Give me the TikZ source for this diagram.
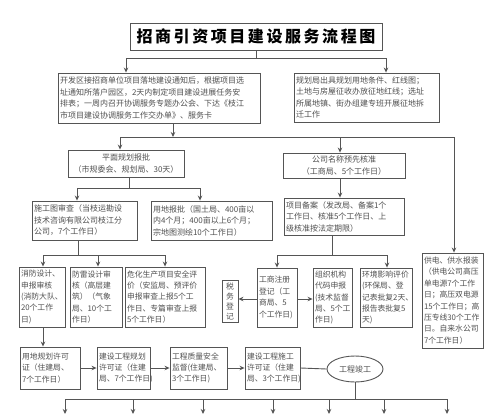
\documentclass[tikz,border=0pt]{standalone}
\usepackage{fontspec}
\usetikzlibrary{arrows.meta,shapes.geometric}
\newfontfamily\cjk{Noto Sans CJK SC}
\newfontfamily\cjktitle[LetterSpace=16]{Noto Sans CJK SC}
\definecolor{linec}{RGB}{85,85,85}
\definecolor{txtc}{RGB}{80,80,80}
\begin{document}
\begin{tikzpicture}[x=1pt,y=-1pt,
  bx/.style={draw=linec, line width=0.9pt, text=txtc, inner sep=2pt,
    font=\cjk\fontsize{8}{11.5}\selectfont, align=left},
  sbx/.style={bx, font=\cjk\fontsize{7.8}{11.4}\selectfont},
  ln/.style={draw=linec, line width=0.9pt},
  ar/.style={ln, -{Stealth[length=5pt,width=4.5pt]}}]
\useasboundingbox (0,0) rectangle (500,415);
\fill[white] (0,0) rectangle (500,415);

% title
\node[draw=linec, line width=1pt, text width=248pt, minimum height=27pt, align=center, inner sep=2pt,
  font=\cjktitle\bfseries\fontsize{16}{18}\selectfont, text=black] (title) at (256,36.5) {招商引资项目建设服务流程图};

% first row
\node[bx, text width=198pt, minimum height=50pt] (b1) at (159,98)
  {开发区接招商单位项目落地建设通知后，根据项目选\\址通知所落户园区，2天内制定项目建设进展任务安\\排表；一周内召开协调服务专题办公会、下达《枝江\\市项目建设协调服务工作交办单》、服务卡};
\node[bx, text width=141pt, minimum height=49pt] (b2) at (366.5,97.5)
  {规划局出具规划用地条件、红线图；\\土地与房屋征收办放征地红线；选址\\所属地镇、街办组建专班开展征地拆\\迁工作};

% second row
\node[bx, text width=112pt, minimum height=27pt, align=center] (b3) at (126,163.5)
  {平面规划报批\\（市规委会、规划局、30天）};
\node[bx, text width=118pt, minimum height=25pt, align=center] (b4) at (344,165.5)
  {公司名称预先核准\\（工商局、5个工作日）};

% third row
\node[bx, text width=101pt, minimum height=39pt] (b5) at (84.5,220.5)
  {施工图审查（当枝运勘设\\技术咨询有限公司枝江分\\公司，7个工作日）};
\node[bx, text width=117pt, minimum height=39pt] (b6) at (211.5,220.5)
  {用地报批（国土局、400亩以\\内4个月；400亩以上6个月；\\宗地图测绘10个工作日）};
\node[bx, text width=116pt, minimum height=37pt] (b7) at (344,216.5)
  {项目备案（发改局、备案1个\\工作日、核准5个工作日、上\\级核准按法定期限）};
\node[sbx, text width=57pt, minimum height=95pt] (b8) at (452.5,300.5)
  {供电、供水报装\\（供电公司高压\\单电源7个工作\\日；高压双电源\\15个工作日；高\\压专线30个工作\\日。自来水公司\\7个工作日）};

% fourth row
\node[sbx, text width=42pt, minimum height=60pt] (c1) at (42,297)
  {消防设计、\\申报审核\\(消防大队、\\20个工作\\日)};
\node[sbx, text width=48pt, minimum height=60pt] (c2) at (96,297)
  {防雷设计审\\核（高层建\\筑）（气象\\局、10个工\\作日）};
\node[sbx, text width=76pt, minimum height=60pt] (c3) at (165,297)
  {危化生产项目安全评\\价（安监局、预评价\\申报审查上报5个工\\作日、专篇审查上报\\5个工作日）};
\node[sbx, text width=12pt, minimum height=42pt, align=center, inner sep=2pt,
  font=\cjk\fontsize{7.8}{10}\selectfont] (c4) at (230,301)
  {税\\务\\登\\记};
\node[sbx, text width=36pt, minimum height=59pt] (c5) at (277,297.5)
  {工商注册\\登记（工\\商局、5\\个工作日)};
\node[sbx, text width=35pt, minimum height=59pt] (c6) at (332.5,297.5)
  {组织机构\\代码申报\\(技术监督\\局、5个工\\作日)};
\node[sbx, text width=48pt, minimum height=59pt] (c7) at (386,297.5)
  {环境影响评价\\(环保局、登\\记表批复2天、\\报告表批复5\\天)};

% fifth row
\node[sbx, text width=56pt, minimum height=42pt] (d1) at (50,368)
  {用地规划许可\\证（住建局、\\7个工作日）};
\node[sbx, text width=49pt, minimum height=42pt] (d2) at (123.5,368)
  {建设工程规划\\许可证（住建\\局、7个工作日)};
\node[sbx, text width=53pt, minimum height=42pt] (d3) at (198.5,368)
  {工程质量安全\\监督(住建局、\\3个工作日)};
\node[sbx, text width=51pt, minimum height=42pt] (d4) at (272.5,368)
  {建设工程施工\\许可证（住建\\局、3个工作日)};
\node[draw=linec, line width=0.9pt, ellipse, minimum width=56pt, minimum height=26pt, inner sep=0pt,
  text=txtc, font=\cjk\fontsize{8}{10}\selectfont] (e) at (355,369) {工程竣工};

% connectors: title
\coordinate (tl) at (126,58);
\coordinate (tr) at (386,58);
\draw[ln] (title.south) -- (title.south |- tl);
\draw[ln] (tl) -- (tr);
\draw[ar] (tl) -- (tl |- b1.north);
\draw[ar] (tr) -- (tr |- b2.north);

% junction below first row
\coordinate (ja) at (173,137);
\coordinate (jl) at (120,137);
\coordinate (jb) at (340,137);
\coordinate (jr) at (454,137);
\draw[ar] (ja |- b1.south) -- (ja);
\draw[ln] (jl) -- (jr);
\draw[ar] (jl) -- (jl |- b3.north);
\draw[ar] (jb) -- (jb |- b4.north);
\draw[ar] (jr) -- (jr |- b8.north);

% b3 -> b5, b6
\coordinate (k) at (129,188);
\coordinate (kl) at (77,188);
\coordinate (kr) at (200,188);
\draw[ln] (k |- b3.south) -- (k);
\draw[ln] (kl) -- (kr);
\draw[ar] (kl) -- (kl |- b5.north);
\draw[ar] (kr) -- (kr |- b6.north);

% b4 -> b7
\draw[ar] (jb |- b4.south) -- (jb |- b7.north);

% b7 -> c5, c7
\coordinate (m) at (332,255);
\coordinate (ml) at (277,255);
\coordinate (mr) at (387,255);
\draw[ln] (m |- b7.south) -- (m);
\draw[ln] (ml) -- (mr);
\draw[ar] (ml) -- (ml |- c5.north);
\draw[ar] (mr) -- (mr |- c7.north);

% b5 -> c1, c2, c3
\coordinate (n) at (78,255);
\coordinate (nl) at (43,255);
\coordinate (nm) at (98,255);
\coordinate (nr) at (165,255);
\draw[ln] (n |- b5.south) -- (n);
\draw[ln] (nl) -- (nr);
\draw[ar] (nl) -- (nl |- c1.north);
\draw[ar] (nm) -- (nm |- c2.north);
\draw[ar] (nr) -- (nr |- c3.north);

% c5 -> c4, c6
\coordinate (p) at (0,299);
\draw[ar] (c5.west |- p) -- (c4.east |- p);
\draw[ar] (c5.east |- p) -- (c6.west |- p);

% c1 -> d1
\coordinate (q) at (43,0);
\draw[ar] (c1.south -| q) -- (d1.north -| q);

% fifth row chain
\draw[ar] (d1.east) -- (d2.west);
\draw[ar] (d2.east) -- (d3.west);
\draw[ar] (d3.east) -- (d4.west);
\draw[ln] (d4.east) -- (e.west);

% bottom distribution
\coordinate (r) at (355,399);
\coordinate (rl) at (65,399);
\coordinate (rr) at (447,399);
\draw[ln] (e.south) -- (r);
\draw[ln] (rl) -- (rr);
\foreach \xx [count=\i] in {65,133,203,273,329,384,447}{
  \coordinate (s\i) at (\xx,399);
  \coordinate (u\i) at (\xx,414);
  \draw[ar] (s\i) -- (u\i);
}
\end{tikzpicture}
\end{document}
